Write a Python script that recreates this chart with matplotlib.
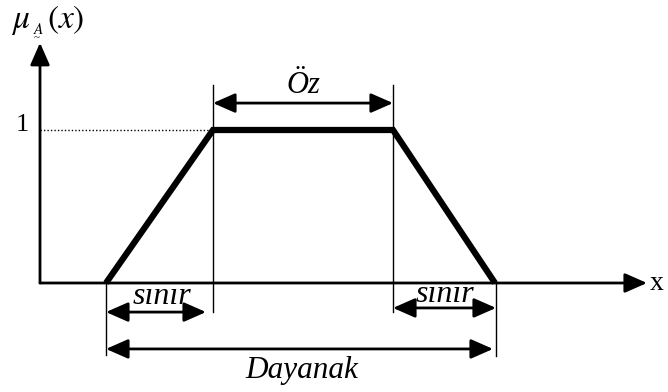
import matplotlib.pyplot as plt

# trapezoidal membership function (x in px units from the y axis, mu in 0..1)
trap_x = [66, 173, 353, 455]
trap_mu = [0, 1, 1, 0]
labels = {"core": "Öz", "edge": "sınır", "support": "Dayanak"}

plt.rcParams['mathtext.fontset'] = 'stix'
serif = 'Liberation Serif'

fig = plt.figure(figsize=(6.68, 3.92), dpi=100)
ax = fig.add_axes([0, 0, 1, 1])
ax.set_xlim(-40, 628)
ax.set_ylim(-109 / 153, 283 / 153)
ax.axis('off')

a, b, c, d = trap_x


def arrow(x0, y0, x1, y1, style='<|-|>', lw=2.0):
    ax.annotate('', xy=(x1, y1), xytext=(x0, y0),
                arrowprops=dict(arrowstyle=style + ',head_length=0.75,head_width=0.33',
                                mutation_scale=18, lw=lw, color='black',
                                shrinkA=0, shrinkB=0))


# axes with arrows
arrow(0, 0, 0, 1.57, style='-|>', lw=2.0)
arrow(0, 0, 607, 0, style='-|>', lw=2.0)

# membership function
ax.plot(trap_x, trap_mu, color='black', lw=4.5, solid_capstyle='butt', solid_joinstyle='miter')
ax.plot([0, b], [1, 1], color='black', lw=1, ls=(0, (1, 1.5)))

# guide lines
ax.plot([b, b], [-0.19, 1.294], color='black', lw=1)
ax.plot([c, c], [-0.19, 1.294], color='black', lw=1)
ax.plot([a, a], [0, -0.47], color='black', lw=1)
ax.plot([d + 1, d + 1], [0, -0.475], color='black', lw=1)

# dimension arrows
arrow(b, 1.176, c, 1.176)
arrow(a, -0.19, b - 7, -0.19)
arrow(c, -0.163, d + 1, -0.163)
arrow(a, -0.431, d - 2, -0.431)

# labels
ax.text((b + c) / 2, 1.29, labels["core"], fontsize=22, family=serif, style='italic',
        ha='center', va='center')
ax.text(122, -0.09, labels["edge"], fontsize=23, family=serif, style='italic',
        ha='center', va='center')
ax.text(405, -0.075, labels["edge"], fontsize=23, family=serif, style='italic',
        ha='center', va='center')
ax.text(262, -0.57, labels["support"], fontsize=22.5, family=serif, style='italic',
        ha='center', va='center')
ax.text(-18, 1.03, '1', fontsize=19, family=serif, ha='center', va='center')
ax.text(617, 0.0, 'x', fontsize=20, family=serif, ha='center', va='center')

# mu_A(x)
ax.text(-29, 1.667, r'$\mu$', fontsize=24, ha='left', va='baseline')
ax.text(-7, 1.625, r'$A$', fontsize=11, ha='left', va='baseline')
ax.text(-6, 1.585, '~', fontsize=8, family=serif, ha='left', va='baseline')
ax.text(7, 1.667, r'$(x)$', fontsize=24, ha='left', va='baseline')

fig.savefig('out.png', dpi=100)
